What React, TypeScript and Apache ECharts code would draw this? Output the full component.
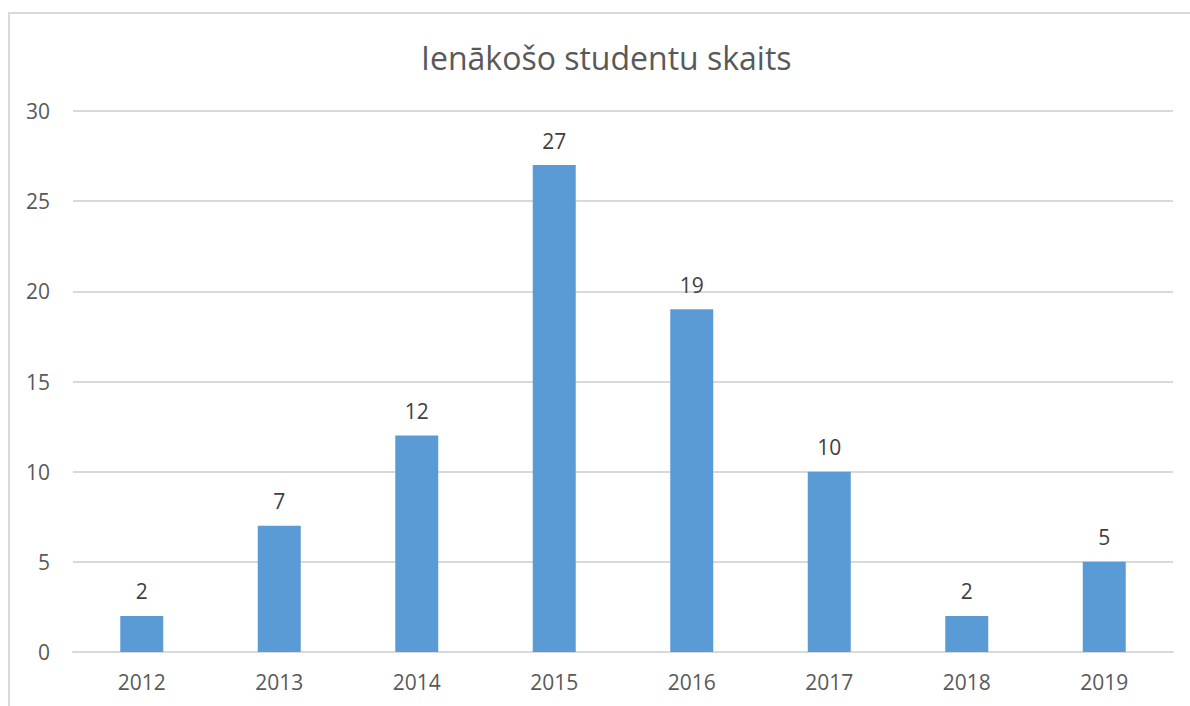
import React, { useEffect, useRef } from "react";
import * as echarts from "echarts";

const categories = ["2012", "2013", "2014", "2015", "2016", "2017", "2018", "2019"];
const values = [2, 7, 12, 27, 19, 10, 2, 5];
const titleText = "Ienākošo studentu skaits";

export default function App() {
  const ref = useRef<HTMLDivElement>(null);
  useEffect(() => {
    const chart = echarts.init(ref.current!, undefined, { renderer: "svg" });
    const font = "'Open Sans', sans-serif";
    chart.setOption({
      animation: false,
      backgroundColor: "#ffffff",
      title: {
        text: titleText,
        left: 416,
        top: 36,
        textStyle: { fontFamily: font, fontSize: 32, fontWeight: "normal", color: "#595959" },
      },
      graphic: [
        {
          type: "rect",
          shape: { x: 9, y: 13, width: 1200, height: 720 },
          style: { fill: "none", stroke: "#D9D9D9", lineWidth: 2 },
          silent: true,
        },
      ],
      grid: { left: 73, right: 17, top: 111, bottom: 54, containLabel: false },
      xAxis: {
        type: "category",
        data: categories,
        axisLine: { lineStyle: { color: "#D9D9D9", width: 2 } },
        axisTick: { show: false },
        axisLabel: { fontFamily: font, fontSize: 21, color: "#595959", margin: 19 },
      },
      yAxis: {
        type: "value",
        min: 0,
        max: 30,
        interval: 5,
        axisLine: { show: false },
        axisTick: { show: false },
        splitLine: { lineStyle: { color: "#D9D9D9", width: 2 } },
        axisLabel: { fontFamily: font, fontSize: 21, color: "#595959", margin: 23 },
      },
      series: [
        {
          type: "bar",
          data: values,
          barWidth: 43,
          itemStyle: { color: "#5B9BD5" },
          label: {
            show: true,
            position: "top",
            distance: 14,
            fontFamily: font,
            fontSize: 21,
            color: "#404040",
          },
        },
      ],
    });
    return () => chart.dispose();
  }, []);
  return (
    <div
      ref={ref}
      style={{ position: "fixed", left: 0, top: 0, width: 1190, height: 706 }}
    />
  );
}
